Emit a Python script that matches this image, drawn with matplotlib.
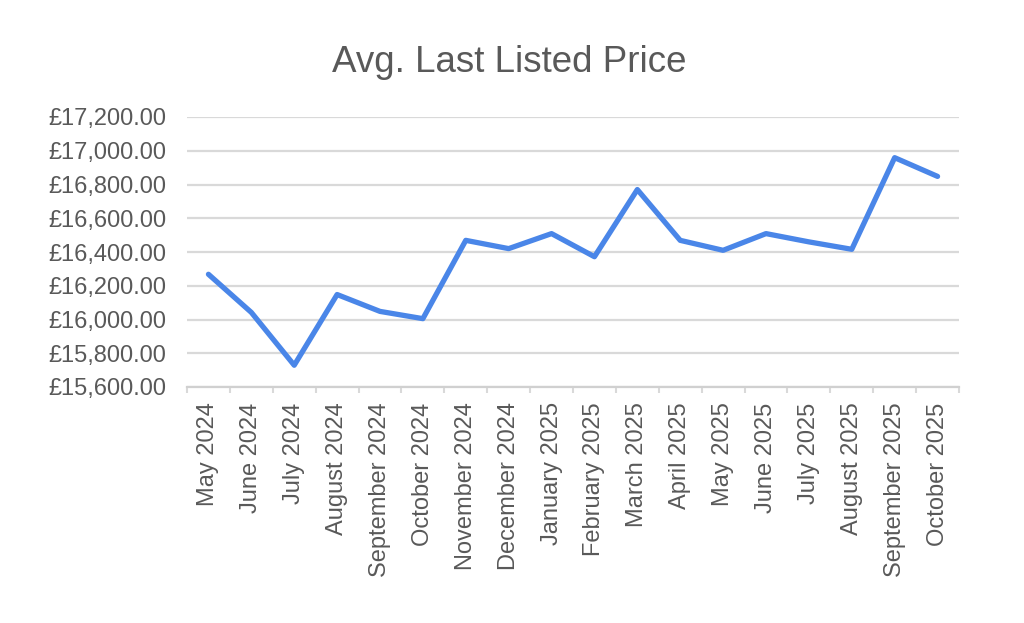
import matplotlib.pyplot as plt
import numpy as np
from matplotlib.ticker import FuncFormatter, FixedLocator

months = ['May 2024', 'June 2024', 'July 2024', 'August 2024', 'September 2024',
          'October 2024', 'November 2024', 'December 2024', 'January 2025',
          'February 2025', 'March 2025', 'April 2025', 'May 2025', 'June 2025',
          'July 2025', 'August 2025', 'September 2025', 'October 2025']
avg_price = [16268, 16042, 15729, 16148, 16048, 16005, 16469, 16420, 16509,
             16372, 16770, 16469, 16410, 16509, 16460, 16416, 16959, 16848]

plt.rcParams['font.family'] = ['Liberation Sans', 'DejaVu Sans']
text_col = '#595959'
grid_col = '#d9d9d9'

fig = plt.figure(figsize=(10.24, 6.23), dpi=100)
ax = fig.add_axes([187 / 1024, 1 - 387 / 623, 772 / 1024, 270 / 623])

x = np.arange(len(months))
ax.plot(x, avg_price, color='#4a86e8', linewidth=3.8,
        solid_capstyle='round', solid_joinstyle='round', zorder=3)

ax.set_xlim(-0.5, len(months) - 0.5)
ax.set_ylim(15600, 17200)
ax.set_yticks(np.arange(15600, 17201, 200))
ax.yaxis.set_major_formatter(FuncFormatter(lambda v, p: f'£{v:,.2f}'))
ax.grid(axis='y', color=grid_col, linewidth=1.6, zorder=0)
ax.set_axisbelow(True)

ax.set_xticks(x)
ax.set_xticklabels(months, rotation=90, va='top', ha='center')
ax.xaxis.set_minor_locator(FixedLocator(np.arange(-0.5, len(months), 1)))
ax.tick_params(axis='x', which='major', length=0, pad=11,
               labelsize=17, labelcolor=text_col)
ax.tick_params(axis='x', which='minor', length=4.5, width=1.5, color=grid_col)
ax.tick_params(axis='y', length=0, pad=15, labelsize=17, labelcolor=text_col)

for side in ['left', 'right', 'top']:
    ax.spines[side].set_visible(False)
ax.spines['bottom'].set_color('#d0d0d0')
ax.spines['bottom'].set_linewidth(1.6)

fig.text(0.497, 1 - 63 / 623, 'Avg. Last Listed Price', ha='center', va='center',
         fontsize=26.5, color=text_col)

fig.savefig('out.png', dpi=100, facecolor='white')
